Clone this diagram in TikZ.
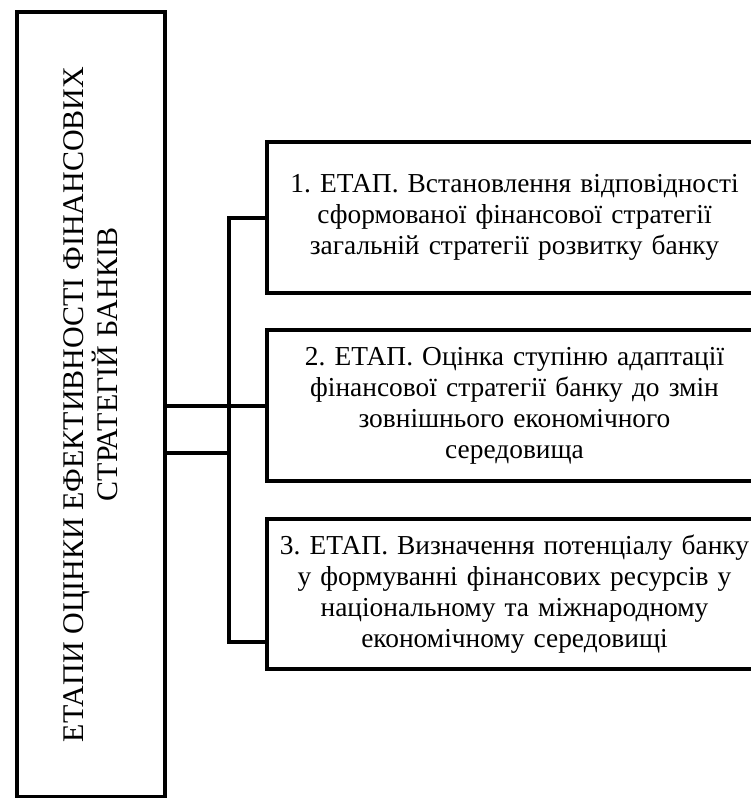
\documentclass[tikz,border=0pt]{standalone}
\usepackage{fontspec}
\setmainfont{Liberation Serif}
\usetikzlibrary{positioning,calc}

\begin{document}
\frenchspacing
\begin{tikzpicture}[x=1pt,y=-1pt,line join=miter,
    stagebox/.style={draw,line width=4pt,anchor=north west,inner sep=0pt,
      minimum width=495pt,text width=495pt,align=center,
      font=\fontsize{27.4}{31}\selectfont},
    link/.style={line width=4pt}]
  \clip (0,0) rectangle (751,798);
  % --- left column: the title, turned on its side ---
  \node[draw,line width=4pt,anchor=north west,inner sep=0pt,
        minimum width=148pt,minimum height=785pt] (root) at (15,10) {};
  \node[rotate=90,align=center,font=\fontsize{30}{34}\selectfont] (title) at (root.center)
    {ЕТАПИ ОЦІНКИ ЕФЕКТИВНОСТІ ФІНАНСОВИХ\\\hspace*{80pt}СТРАТЕГІЙ БАНКІВ};
  % --- right column: three stages ---
  \node[stagebox,minimum height=151pt] (stage1) at (265,140)
    {1. ЕТАП. Встановлення відповідності\\сформованої фінансової стратегії\\загальній стратегії розвитку банку};
  \node[stagebox,minimum height=151pt] (stage2) at (265,328)
    {2. ЕТАП. Оцінка ступіню адаптації\\фінансової стратегії банку до змін\\зовнішнього економічного\\середовища};
  \node[stagebox,minimum height=150pt] (stage3) at (265,517)
    {3. ЕТАП. Визначення потенціалу банку\\у формуванні фінансових ресурсів у\\національному та міжнародному\\економічному середовищі};
  % --- bus between the columns ---
  \coordinate (bus3) at (229,642);
  \coordinate (foot3) at (265,642);
  \coordinate (hook) at (229,453);
  \draw[link] (stage1.west) -- (stage1.west -| bus3) -- (bus3) -- (foot3);
  \draw[link] (root.east |- stage2.west) -- (stage2.west);
  \draw[link] (root.east |- hook) -- (hook);
\end{tikzpicture}
\end{document}
